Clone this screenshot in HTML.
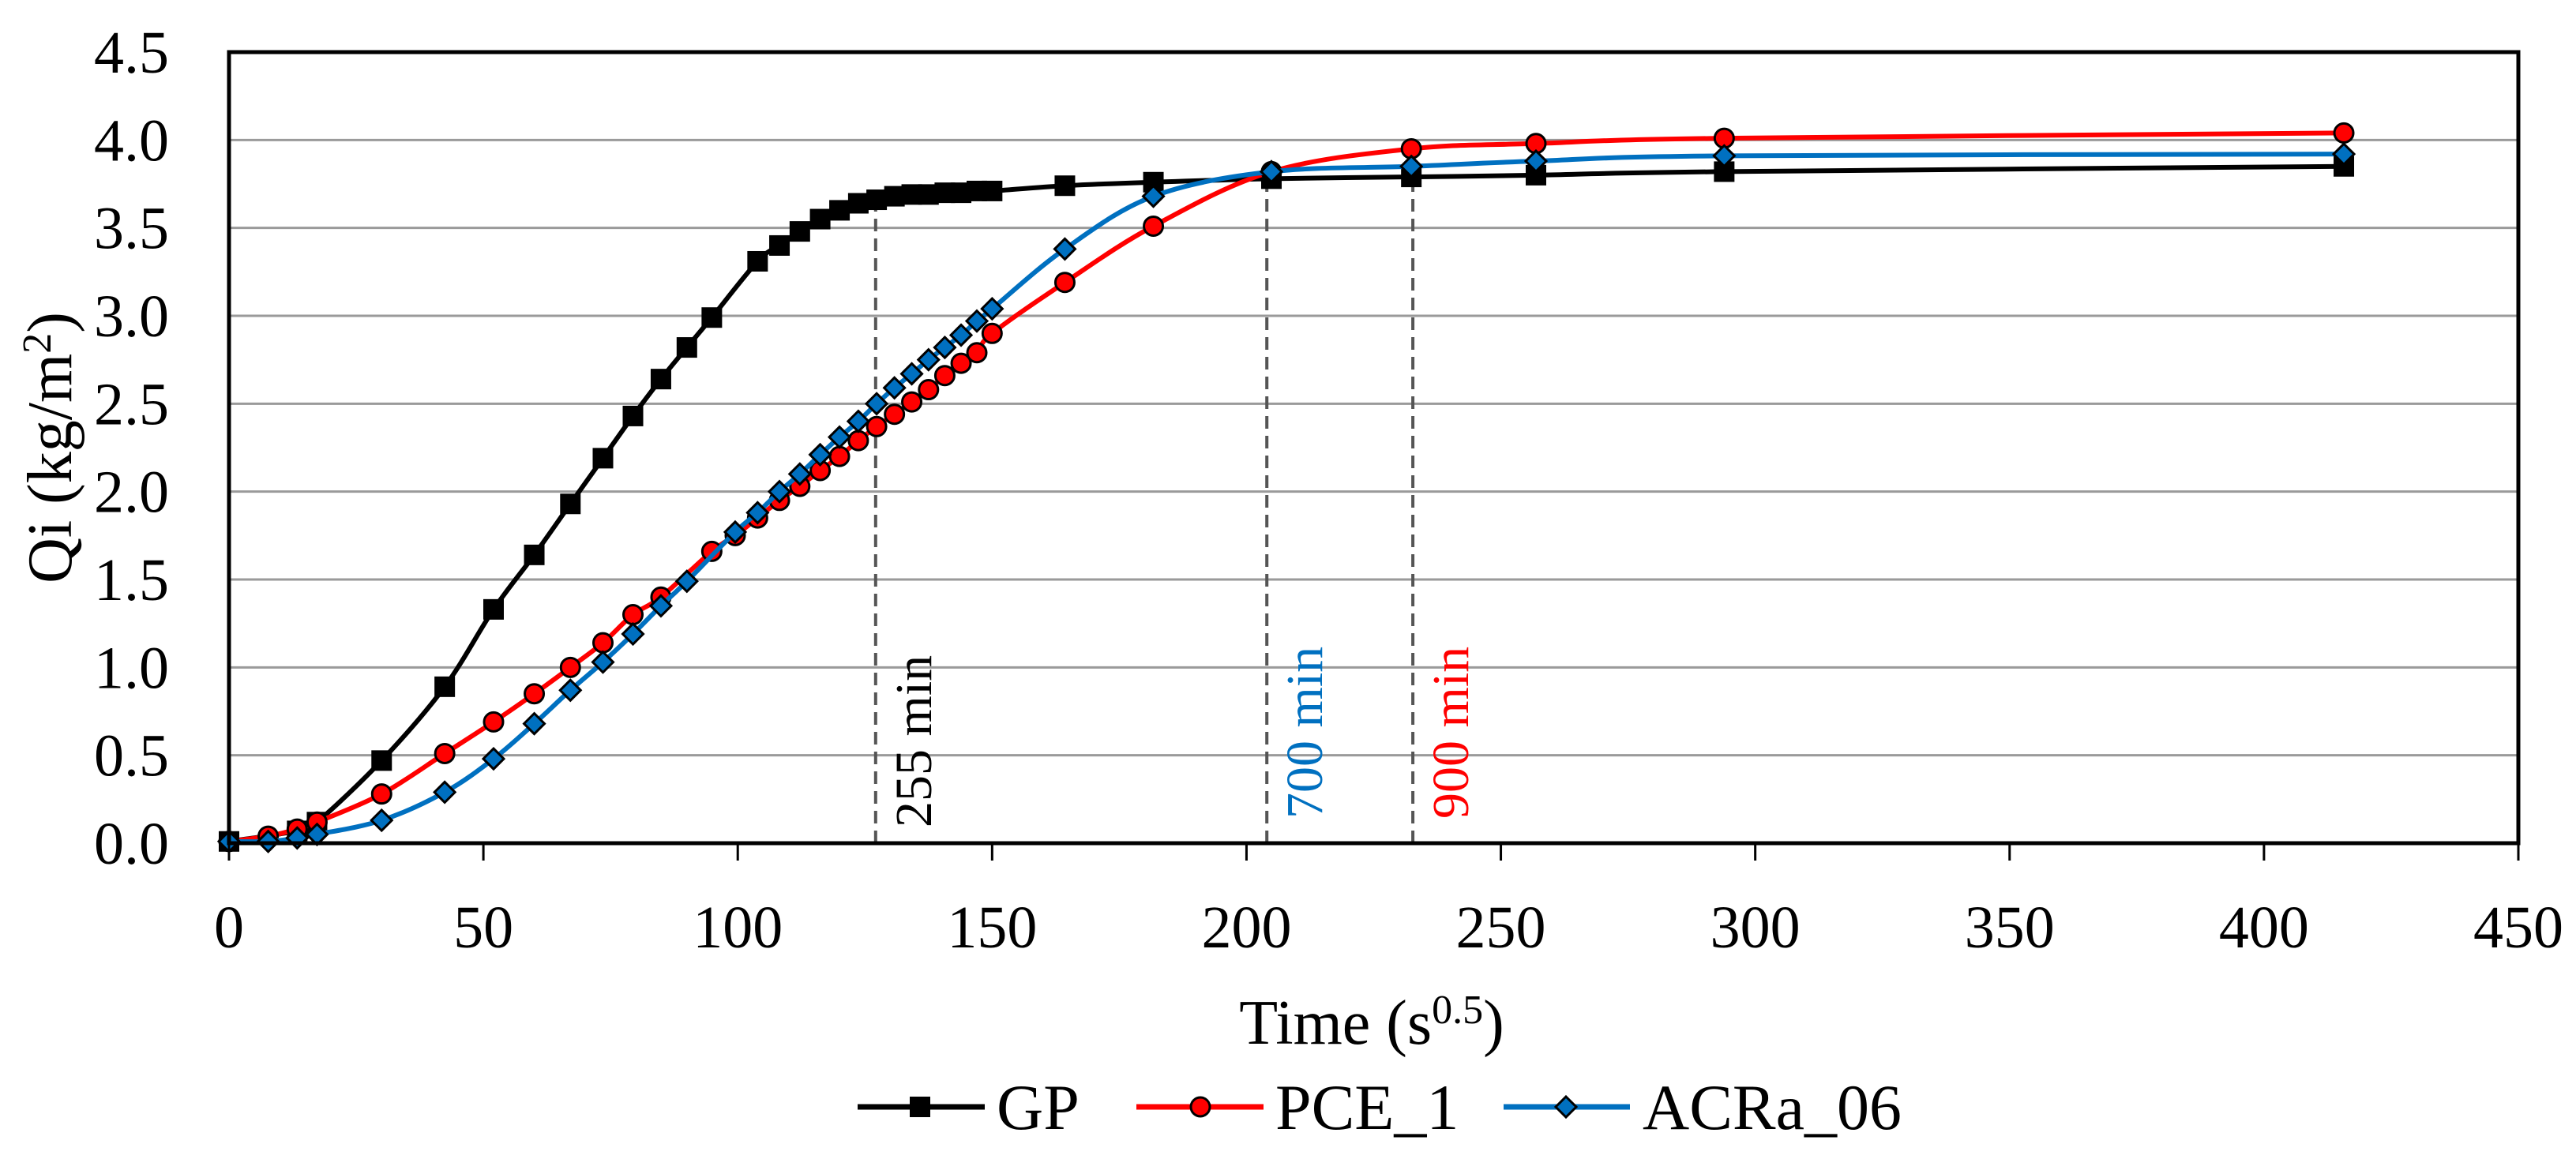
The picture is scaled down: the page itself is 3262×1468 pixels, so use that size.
<!DOCTYPE html>
<html><head><meta charset="utf-8"><style>
html,body{margin:0;padding:0;background:#fff;}
svg{display:block;font-family:"Liberation Serif",serif;}
</style></head><body>
<svg id="chart" width="3262" height="1468" viewBox="0 0 3262 1468">
<g id="grid"></g>
<g id="vlines"></g>
<g id="series"></g>
<g id="axes"></g>
<g id="legend"></g>
</svg>
<script>
const gpX=[0,13.4,17.3,30,42.4,52,60,67.1,73.5,79.4,84.9,90,94.9,103.9,108.2,112.2,116.2,120,123.7,127.3,130.8,134.2,137.5,140.7,143.9,147,150,164.3,181.7,204.9,232.4,256.9,293.9,415.7];
const gpY=[0.01,0.07,0.12,0.47,0.89,1.33,1.64,1.93,2.19,2.43,2.64,2.82,2.99,3.31,3.40,3.48,3.55,3.60,3.64,3.66,3.68,3.69,3.69,3.70,3.70,3.71,3.71,3.74,3.76,3.78,3.79,3.80,3.82,3.85];
const pceX=[0,7.7,13.4,17.3,30,42.4,52,60,67.1,73.5,79.4,84.9,94.9,99.5,103.9,108.2,112.2,116.2,120,123.7,127.3,130.8,134.2,137.5,140.7,143.9,147,150,164.3,181.7,204.9,232.4,256.9,293.9,415.7];
const pceY=[0.01,0.04,0.08,0.12,0.28,0.51,0.69,0.85,1.00,1.14,1.30,1.40,1.66,1.75,1.85,1.95,2.03,2.12,2.20,2.29,2.37,2.44,2.51,2.58,2.66,2.73,2.79,2.90,3.19,3.51,3.82,3.95,3.98,4.01,4.04];
const acrX=[0,7.7,13.4,17.3,30,42.4,52,60,67.1,73.5,79.4,84.9,90,99.5,103.9,108.2,112.2,116.2,120,123.7,127.3,130.8,134.2,137.5,140.7,143.9,147,150,164.3,181.7,204.9,232.4,256.9,293.9,415.7];
const acrY=[0.01,0.01,0.03,0.05,0.13,0.29,0.48,0.68,0.87,1.03,1.19,1.35,1.49,1.77,1.88,2.00,2.10,2.21,2.31,2.40,2.50,2.59,2.67,2.75,2.82,2.89,2.97,3.04,3.38,3.68,3.82,3.85,3.88,3.91,3.92];
const xTicks=[0,50,100,150,200,250,300,350,400,450];
const yTicks=[0,0.5,1,1.5,2,2.5,3,3.5,4,4.5];
const yTickLabels=["0.0","0.5","1.0","1.5","2.0","2.5","3.0","3.5","4.0","4.5"];
const refX=[127.1,204.0,232.7];
const refTop=[3.67,3.82,3.95];
const refLabels=["255 min","700 min","900 min"];

const NS="http://www.w3.org/2000/svg";
const L=290,R=3189,T=66,B=1068,XMAX=450,YMAX=4.5;
const sx=v=>L+v*(R-L)/XMAX, sy=v=>B-v*(B-T)/YMAX;
function mk(tag,attrs,parent){const e=document.createElementNS(NS,tag);for(const k in attrs)e.setAttribute(k,attrs[k]);parent.appendChild(e);return e;}
const grid=document.getElementById('grid'),axes=document.getElementById('axes'),ser=document.getElementById('series'),vl=document.getElementById('vlines'),leg=document.getElementById('legend');

yTicks.forEach((t,i)=>{
  if(t>0&&t<YMAX){const g=mk('line',{x1:L,x2:R,y1:sy(t),y2:sy(t),stroke:'#9a9a9a','stroke-width':3},grid);
  
  }
  const tx=mk('text',{x:214,y:sy(t)+26,'text-anchor':'end','font-size':76,fill:'#000'},axes);
  tx.textContent=yTickLabels[i];
  
  
});
xTicks.forEach(t=>{
  const tk=mk('line',{x1:sx(t),x2:sx(t),y1:B,y2:B+22,stroke:'#000','stroke-width':3},axes);
  
  
  const tx=mk('text',{x:sx(t),y:1200,'text-anchor':'middle','font-size':76,fill:'#000'},axes);
  tx.textContent=t;
  
  
});
const frame=mk('rect',{x:L,y:T,width:R-L,height:B-T,fill:'none',stroke:'#000','stroke-width':5},axes);



const xt=mk('text',{x:1737,y:1322,'text-anchor':'middle','font-size':80,fill:'#000'},axes);
xt.innerHTML='Time (s<tspan dy="-26" font-size="52">0.5</tspan><tspan dy="26">)</tspan>';


const yt=mk('text',{x:0,y:0,'text-anchor':'middle','font-size':80,fill:'#000',transform:'translate(90,567) rotate(-90)'},axes);
yt.innerHTML='Qi (kg/m<tspan dy="-26" font-size="52">2</tspan><tspan dy="26">)</tspan>';



const refCols=['#000','#0070c0','#ff0000'];
refX.forEach((v,i)=>{
  const ln=mk('line',{x1:sx(v),x2:sx(v),y1:B,y2:sy(refTop[i]),stroke:'#555','stroke-width':4,'stroke-dasharray':'16 9'},vl);
  
  
  const tx=mk('text',{x:0,y:0,'font-size':66,fill:refCols[i],transform:`translate(${sx(v)+70},${i==0?1048:1037}) rotate(-90)`},vl);
  tx.textContent=refLabels[i];
  
  
});

function smooth(xs,ys){
  const p=xs.map((x,i)=>[sx(x),sy(ys[i])]);let d=`M${p[0][0]},${p[0][1]}`;
  for(let i=0;i<p.length-1;i++){const p0=p[Math.max(0,i-1)],p1=p[i],p2=p[i+1],p3=p[Math.min(p.length-1,i+2)];
    const c1=[p1[0]+(p2[0]-p0[0])/6,p1[1]+(p2[1]-p0[1])/6],c2=[p2[0]-(p3[0]-p1[0])/6,p2[1]-(p3[1]-p1[1])/6];
    d+=` C${c1[0]},${c1[1]} ${c2[0]},${c2[1]} ${p2[0]},${p2[1]}`;}
  return d;}
function marker(type,cx,cy,fill,parent){
  let e;
  if(type==='sq')e=mk('rect',{x:cx-13,y:cy-13,width:26,height:26,fill:'#000'},parent);
  else if(type==='ci')e=mk('circle',{cx:cx,cy:cy,r:12,fill:fill,stroke:'#000','stroke-width':3},parent);
  else e=mk('polygon',{points:`${cx},${cy-13} ${cx+13},${cy} ${cx},${cy+13} ${cx-13},${cy}`,fill:fill,stroke:'#000','stroke-width':3},parent);
  return e;}
const defs=[[gpX,gpY,'#000','sq','gp'],[pceX,pceY,'#ff0000','ci','pce-1'],[acrX,acrY,'#0070c0','di','acra-06']];
defs.forEach(([xs,ys,col,m,nm])=>{
  const g=mk('g',{},ser);
  
  
  const path=mk('path',{d:smooth(xs,ys),fill:'none',stroke:col,'stroke-width':6},g);
  
  
  xs.forEach((x,i)=>{const e=marker(m,sx(x),sy(ys[i]),col,g);
    
    });
});

const legItems=[['GP','#000','sq',1086,1247,1165,1262],['PCE_1','#ff0000','ci',1439,1600,1520,1615],['ACRa_06','#0070c0','di',1904,2064,1983,2080]];
legItems.forEach(([lab,col,m,x1,x2,mx,tx0])=>{
  const g=mk('g',{},leg);
  
  
  mk('line',{x1:x1,x2:x2,y1:1402,y2:1402,stroke:col,'stroke-width':7},g);
  marker(m,mx,1402,col,g);
  const t=mk('text',{x:tx0,y:1430,'font-size':82,fill:'#000'},g);
  t.textContent=lab;
});
</script>
</body></html>
